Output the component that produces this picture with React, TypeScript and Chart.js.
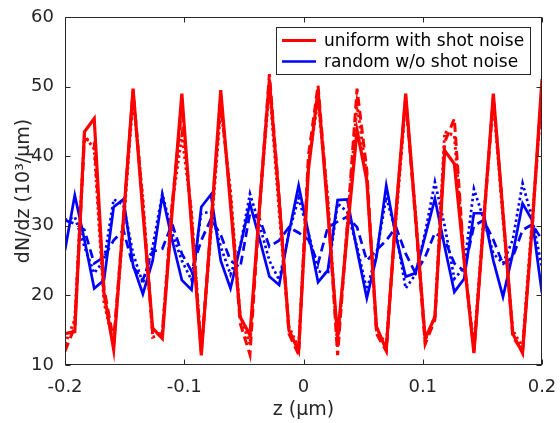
import React, { useEffect, useRef } from "react";
import { Chart, registerables } from "chart.js";
Chart.register(...registerables);

// z positions (µm)
const zValues = [
  -0.2, -0.1918, -0.1837, -0.1755, -0.1673, -0.1592, -0.151, -0.1429, -0.1347, -0.1265,
  -0.1184, -0.1102, -0.102, -0.0939, -0.0857, -0.0776, -0.0694, -0.0612, -0.0531, -0.0449,
  -0.0367, -0.0286, -0.0204, -0.0122, -0.0041, 0.0041, 0.0122, 0.0204, 0.0286, 0.0367,
  0.0449, 0.0531, 0.0612, 0.0694, 0.0776, 0.0857, 0.0939, 0.102, 0.1102, 0.1184,
  0.1265, 0.1347, 0.1429, 0.151, 0.1592, 0.1673, 0.1755, 0.1837, 0.1918, 0.2,
];

// uniform with shot noise (three realisations)
const redSolid = [
  14.5, 14.8, 43.5, 45.4, 20.3, 12.2, 31, 49.7, 32, 15.3,
  13.8, 32, 49.0, 30, 11.4, 30, 49.5, 33, 16.9, 14.3,
  33, 51, 33.7, 15.0, 12.0, 38, 49.5, 32, 14.0, 29,
  43.7, 36.5, 15.5, 12.2, 32, 49.0, 31.5, 13.8, 16.9, 40.8,
  38.9, 25, 11.7, 30.4, 49.0, 31.8, 14.5, 11.7, 30, 51.1,
];
const redDashed = [
  12, 15.5, 42.5, 42, 21, 13.5, 31, 49.5, 33, 14.5,
  14.5, 33, 47, 31, 12, 30, 48, 34, 16, 11.5,
  33, 51.8, 34, 14.5, 11.5, 40, 50.2, 33, 11.4, 30,
  49.7, 38, 14.5, 12, 32, 48.5, 31, 13, 16.5, 42,
  45.4, 25, 12, 30, 48.5, 32, 14, 12, 30, 50,
];
const redDotted = [
  13, 16.5, 43, 41, 19, 13, 30, 48.5, 34, 14,
  14.5, 33, 43, 32, 12, 29, 47, 35, 17, 13,
  33, 50, 32, 15.5, 12.5, 39, 48, 34, 12.5, 30,
  47.5, 37, 15, 13, 31, 48, 32, 13.5, 17, 43.5,
  43, 25, 12.5, 31, 48, 31, 15, 12.5, 31, 49,
];

// random w/o shot noise (three realisations)
const blueSolid = [
  26.5, 34.4, 28, 21.0, 22.2, 32.7, 33.8, 24.3, 20.2, 25,
  34.4, 28, 22.2, 20.8, 32.7, 34.5, 25, 21.0, 27, 33.2,
  28, 22.7, 21.5, 29, 35.8, 29, 21.9, 23.6, 33.7, 33.8,
  26.5, 19.6, 25.5, 35.8, 28.4, 22.7, 23.2, 28.5, 33.9, 27,
  20.5, 22.4, 31.8, 31.8, 25, 19.8, 26, 33.2, 30.8, 20.3,
];
const blueDashed = [
  30.8, 30.3, 29.4, 24.6, 25.5, 27.9, 29.4, 24.1, 22.2, 26.3,
  26.7, 30.3, 26, 23.5, 27.9, 31, 28.7, 25, 24, 31.8,
  31, 27, 27.9, 29.8, 29, 28, 24.6, 29.8, 30.6, 31.3,
  29.8, 25, 26.5, 27.9, 29.8, 26, 23.2, 25.5, 29, 28,
  24.6, 23.5, 30, 30.8, 28, 24.5, 25.5, 29.4, 30.2, 28,
];
const blueDotted = [
  30.8, 31.3, 27, 23.2, 25, 33.8, 33, 26, 21.7, 27,
  34.6, 29, 25, 22.2, 31.8, 32, 27, 23, 27, 34.6,
  30, 25, 22.2, 29, 34, 29, 23.5, 23, 33.2, 32,
  27, 20.8, 26, 34.1, 29, 21, 23, 29, 36.3, 30,
  22.4, 24, 35.3, 31, 26, 24.6, 28, 36.1, 31, 24,
];

const seriesNames = ["uniform with shot noise", "random w/o shot noise"];
const xTicks = [-0.2, -0.1, 0, 0.1, 0.2];
const xTickLabels = ["-0.2", "-0.1", "0", "0.1", "0.2"];
const yTicks = [10, 20, 30, 40, 50, 60];
const yTickLabels = ["10", "20", "30", "40", "50", "60"];
const xTitle = "z (μm)";
const yTitle = "dN/dz (10³/μm)";

const FONT = "'DejaVu Sans', sans-serif";
const AXIS = "#262626";
const RED = "#ff0000";
const BLUE = "#0000ff";

const pts = (vals: number[]) => zValues.map((z, i) => ({ x: z, y: vals[i] }));

const framePlugin = {
  id: "frameTicks",
  afterDatasetsDraw(chart: any) {
    const { ctx, chartArea: a, scales } = chart;
    ctx.save();
    ctx.strokeStyle = AXIS;
    ctx.lineWidth = 1;
    const L = Math.round(a.left) + 0.5;
    const R = Math.round(a.right) - 0.5;
    const T = Math.round(a.top) + 0.5;
    const B = Math.round(a.bottom) - 0.5;
    ctx.strokeRect(L, T, R - L, B - T);
    const tl = 5;
    ctx.beginPath();
    for (const t of xTicks) {
      const px = Math.round(scales.x.getPixelForValue(t)) + 0.5;
      ctx.moveTo(px, B);
      ctx.lineTo(px, B - tl);
      ctx.moveTo(px, T);
      ctx.lineTo(px, T + tl);
    }
    for (const t of yTicks) {
      const py = Math.round(scales.y.getPixelForValue(t)) + 0.5;
      ctx.moveTo(L, py);
      ctx.lineTo(L + tl, py);
      ctx.moveTo(R, py);
      ctx.lineTo(R - tl, py);
    }
    ctx.stroke();
    ctx.restore();
  },
};

const legendPlugin = {
  id: "insideLegend",
  afterDraw(chart: any) {
    const { ctx, chartArea: a } = chart;
    const items = chart.data.datasets.filter((d: any) => d.label);
    const right = a.right - 12;
    const left = right - 254;
    const top = a.top + 10;
    const h = 47;
    ctx.save();
    ctx.fillStyle = "#ffffff";
    ctx.fillRect(left, top, right - left, h);
    ctx.strokeStyle = AXIS;
    ctx.lineWidth = 1;
    ctx.strokeRect(Math.round(left) + 0.5, Math.round(top) + 0.5, right - left, h);
    ctx.font = `17px ${FONT}`;
    ctx.textBaseline = "middle";
    ctx.textAlign = "left";
    items.forEach((d: any, i: number) => {
      const y = top + 13.5 + i * 21;
      ctx.strokeStyle = d.borderColor;
      ctx.lineWidth = d.borderWidth;
      ctx.setLineDash([]);
      ctx.beginPath();
      ctx.moveTo(left + 6, y);
      ctx.lineTo(left + 40, y);
      ctx.stroke();
      ctx.fillStyle = "#000000";
      ctx.fillText(d.label, left + 48, y + 1);
    });
    ctx.restore();
  },
};

export default function App() {
  const ref = useRef<HTMLCanvasElement | null>(null);
  useEffect(() => {
    if (!ref.current) return;
    const mk = (label: string, data: number[], color: string, dash: number[], w: number) => ({
      label,
      data: pts(data),
      borderColor: color,
      backgroundColor: color,
      borderWidth: w,
      borderDash: dash,
      pointRadius: 0,
      tension: 0,
      fill: false,
    });
    const chart = new Chart(ref.current, {
      type: "line",
      data: {
        datasets: [
          mk(seriesNames[0], redSolid, RED, [], 3.2),
          mk("", redDashed, RED, [9, 5], 3.0),
          mk("", redDotted, RED, [2.5, 3], 3.0),
          mk(seriesNames[1], blueSolid, BLUE, [], 2.7),
          mk("", blueDashed, BLUE, [9, 5], 2.7),
          mk("", blueDotted, BLUE, [2.5, 3], 2.7),
        ],
      },
      options: {
        animation: false,
        responsive: false,
        maintainAspectRatio: false,
        layout: { padding: { top: 17, right: 18, left: 0, bottom: 0 } },
        plugins: { legend: { display: false }, tooltip: { enabled: false } },
        scales: {
          x: {
            type: "linear",
            min: -0.2,
            max: 0.2,
            grid: {
              display: true,
              drawOnChartArea: false,
              drawTicks: true,
              tickLength: 12,
              color: "rgba(0,0,0,0)",
            },
            border: { display: false },
            ticks: {
              stepSize: 0.1,
              autoSkip: false,
              maxRotation: 0,
              padding: 0,
              color: AXIS,
              font: { family: FONT, size: 18 },
              callback: (v: any) => {
                const k = xTicks.findIndex((t) => Math.abs(t - Number(v)) < 1e-9);
                return k >= 0 ? xTickLabels[k] : "";
              },
            },
            title: {
              display: true,
              text: xTitle,
              color: AXIS,
              font: { family: FONT, size: 19 },
              padding: { top: 0, bottom: 2 },
            },
            afterFit: (s: any) => {
              s.height = 58;
            },
          },
          y: {
            type: "linear",
            min: 10,
            max: 60,
            grid: { display: false },
            border: { display: false },
            ticks: {
              stepSize: 10,
              padding: 3,
              color: AXIS,
              font: { family: FONT, size: 18 },
              callback: (v: any) => {
                const k = yTicks.findIndex((t) => Math.abs(t - Number(v)) < 1e-9);
                return k >= 0 ? yTickLabels[k] : "";
              },
            },
            title: {
              display: true,
              text: yTitle,
              color: AXIS,
              font: { family: FONT, size: 19 },
              padding: { top: 13, bottom: 0 },
            },
            afterFit: (s: any) => {
              s.width = 65;
            },
          },
        },
      },
      plugins: [framePlugin, legendPlugin],
    } as any);
    return () => chart.destroy();
  }, []);
  return (
    <div style={{ position: "absolute", left: 0, top: 0, width: 560, height: 423, background: "#fff" }}>
      <canvas ref={ref} width={560} height={423} style={{ display: "block" }} />
    </div>
  );
}
